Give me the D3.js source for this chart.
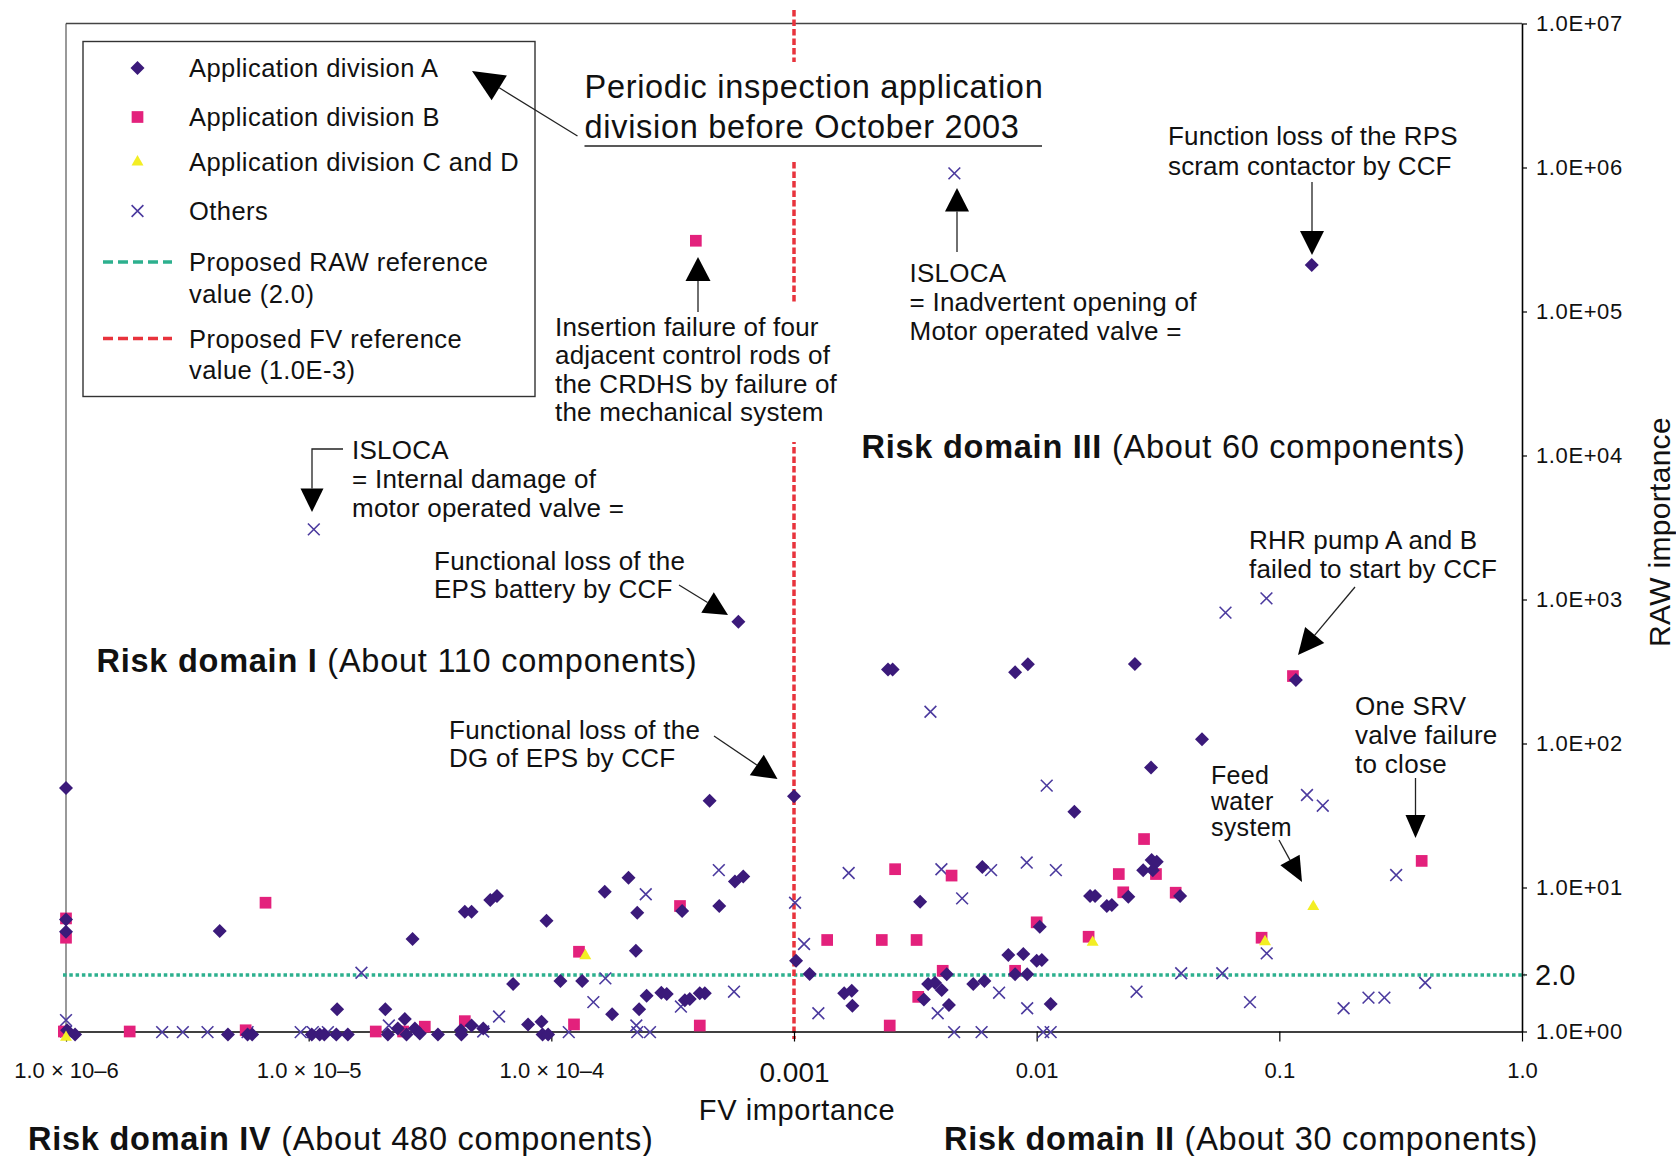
<!DOCTYPE html>
<html>
<head>
<meta charset="utf-8">
<script src="https://cdn.jsdelivr.net/npm/d3@7/dist/d3.min.js"></script>
<style>
  body { margin: 0; background: #fff; }
  svg text { font-family: "Liberation Sans", Arial, Helvetica, sans-serif; fill: #111; }
</style>
</head>
<body>
<svg width="1676" height="1156"></svg>
<script>

// [FV importance, RAW importance]
var divA = [
  [0.136, 2.1e5], [5.9e-4, 700], [1e-6, 49], [2.44e-3, 327], [2.55e-3, 327],
  [8.15e-3, 312], [9.2e-3, 355], [0.0143, 33.6], [4.49e-4, 40], [1.0e-3, 43],
  [0.0254, 356], [0.117, 276], [0.048, 107], [0.0296, 68],
  [1e-6, 6.0], [1e-6, 4.93], [1.01e-6, 1.02], [1.09e-6, 0.955],
  [4.3e-6, 4.99], [2.68e-5, 4.39], [1.31e-5, 1.43], [2.07e-5, 1.43], [2.49e-5, 1.22],
  [4.65e-6, 0.955], [5.6e-6, 0.955], [5.85e-6, 0.955],
  [1.03e-5, 0.955], [1.11e-5, 0.955], [1.16e-5, 0.955], [1.30e-5, 0.955], [1.45e-5, 0.955],
  [2.12e-5, 0.955], [2.33e-5, 1.05], [2.53e-5, 0.955], [2.74e-5, 1.05],
  [4.4e-5, 6.79], [4.69e-5, 6.79], [5.6e-5, 8.19], [5.97e-5, 8.73], [9.55e-5, 5.88],
  [1.66e-4, 9.35], [2.08e-4, 11.7], [2.26e-4, 6.68], [3.46e-4, 6.87],
  [5.71e-4, 11.0], [6.18e-4, 11.9], [4.92e-4, 7.44], [1.02e-3, 3.10], [1.16e-3, 2.51],
  [2.23e-4, 3.64], [6.96e-5, 2.14], [1.09e-4, 2.24], [1.34e-4, 2.24], [1.78e-4, 1.32],
  [2.47e-4, 1.77], [2.30e-4, 1.43], [2.84e-4, 1.86], [2.99e-4, 1.82],
  [3.55e-4, 1.65], [3.72e-4, 1.68], [4.09e-4, 1.84], [4.29e-4, 1.84],
  [2.87e-5, 0.97], [3.41e-5, 0.955], [4.24e-5, 1.02], [4.26e-5, 0.955], [4.69e-5, 1.1],
  [5.24e-5, 1.05], [8.02e-5, 1.12], [9.11e-5, 1.17], [9.2e-5, 0.955], [9.7e-5, 0.955],
  [5.97e-3, 13.9], [3.31e-3, 7.97], [1.61e-3, 1.84], [1.73e-3, 1.92], [1.74e-3, 1.51],
  [3.43e-3, 1.67], [3.57e-3, 2.14], [3.81e-3, 2.18], [4.06e-3, 1.94], [4.26e-3, 2.5],
  [4.35e-3, 1.53], [5.48e-3, 2.14], [6.09e-3, 2.24], [7.64e-3, 3.4], [8.81e-3, 3.45],
  [8.15e-3, 2.5], [9.14e-3, 2.5], [0.0100, 3.1], [0.0105, 3.14], [0.0103, 5.34],
  [0.01142, 1.55], [0.0166, 8.73], [0.0174, 8.73], [0.01946, 7.44], [0.0204, 7.57],
  [0.02386, 8.63], [0.02748, 13.2], [0.02977, 15.5], [0.03125, 15.1], [0.0301, 13.2],
  [0.039, 8.73]
];

var divB = [
  [3.94e-4, 3.1e5], [0.1138, 294], [1e-6, 6.1], [1e-6, 4.48], [0.98e-6, 1.0],
  [6.64e-6, 7.84], [1.83e-6, 1.0], [5.5e-6, 1.02], [1.89e-5, 1.0], [2.45e-5, 1.0],
  [3.01e-5, 1.08], [4.4e-5, 1.18], [1.24e-4, 1.12], [4.09e-4, 1.1], [1.30e-4, 3.58],
  [3.39e-4, 7.44], [0.0277, 21.7], [2.61e-3, 13.4], [4.46e-3, 12.1],
  [1.37e-3, 4.32], [2.3e-3, 4.32], [3.2e-3, 4.32], [2.48e-3, 1.1], [3.25e-3, 1.74],
  [4.1e-3, 2.64], [8.15e-3, 2.64], [0.01, 5.73], [0.01637, 4.55], [0.0218, 12.4],
  [0.02274, 9.26], [0.03102, 12.4], [0.0374, 9.2], [0.386, 15.3], [0.0845, 4.48]
];

var divCD = [
  [1e-6, 0.91], [1.38e-4, 3.36], [0.01701, 4.16], [0.0873, 4.2], [0.138, 7.36]
];

var others = [
  [4.58e-3, 9.1e5], [1.05e-5, 3070], [3.65e-3, 166], [0.0110, 51], [0.0885, 1019],
  [0.060, 810], [0.130, 43.9], [0.151, 37], [1e-6, 1.2], [1e-6, 1.0],
  [2.49e-6, 0.99], [3.03e-6, 0.99], [3.83e-6, 0.99], [5.6e-6, 0.99], [9.27e-6, 0.99],
  [1.04e-5, 0.99], [1.2e-5, 0.99], [1.65e-5, 2.56], [2.14e-5, 1.10], [5.24e-5, 1.0],
  [6.09e-5, 1.27], [1.18e-4, 0.99], [2.24e-4, 1.1], [2.26e-4, 0.99], [2.55e-4, 0.99],
  [1.67e-4, 2.34], [1.49e-4, 1.6], [3.42e-4, 1.49], [5.66e-4, 1.89], [2.45e-4, 8.97],
  [4.9e-4, 13.2], [1.01e-3, 7.84], [1.10e-3, 4.05], [1.26e-3, 1.34], [1.68e-3, 12.6],
  [4.05e-3, 13.4], [6.49e-3, 13.2], [9.1e-3, 14.9], [0.0120, 13.2], [4.93e-3, 8.41],
  [3.91e-3, 1.34], [4.57e-3, 0.99], [5.93e-3, 0.99], [7.0e-3, 1.86], [9.14e-3, 1.45],
  [0.01064, 0.99], [0.01142, 0.99], [0.0394, 2.54], [0.0582, 2.54], [0.0258, 1.89],
  [0.303, 12.2], [0.0887, 3.49], [0.0757, 1.6], [0.184, 1.45], [0.233, 1.72],
  [0.271, 1.72], [0.399, 2.18]
];

var xTickValues = [1e-6, 1e-5, 1e-4, 1e-3, 1e-2, 1e-1, 1];
var xTickLabels = ["1.0 \u00d7 10\u20136", "1.0 \u00d7 10\u20135", "1.0 \u00d7 10\u20134", "0.001", "0.01", "0.1", "1.0"];
var yTickValues = [1, 10, 100, 1e3, 1e4, 1e5, 1e6, 1e7];
var yTickLabels = ["1.0E+00", "1.0E+01", "1.0E+02", "1.0E+03", "1.0E+04", "1.0E+05", "1.0E+06", "1.0E+07"];

var fvRef = 1e-3;
var rawRefLabel = "2.0";
var rawRefLine = 2.47;   // the dotted line sits here in the figure, slightly above log(2)

var colA = "#3b1a7a", colB = "#e3217c", colCD = "#f3ee24", colO = "#4b3a9e";
var colGreen = "#2db08e", colRed = "#e8333c";

var svg = d3.select("svg");
var x = d3.scaleLog().domain([1e-6, 1]).range([66, 1522]);
var y = d3.scaleLog().domain([1, 1e7]).range([1031.5, 23.5]);

// frame
svg.append("line").attr("x1", 66).attr("x2", 66).attr("y1", y(1e7)).attr("y2", y(1))
  .attr("stroke", "#777").attr("stroke-width", 1.5);
svg.append("line").attr("x1", 66).attr("x2", 1522).attr("y1", y(1e7)).attr("y2", y(1e7))
  .attr("stroke", "#444").attr("stroke-width", 1.3);

// reference lines
svg.append("line").attr("x1", 63).attr("x2", 1525).attr("y1", y(rawRefLine)).attr("y2", y(rawRefLine))
  .attr("stroke", colGreen).attr("stroke-width", 3.5).attr("stroke-dasharray", "3.5 2.8");
svg.append("line").attr("x1", x(fvRef)).attr("x2", x(fvRef)).attr("y1", 10).attr("y2", 1039)
  .attr("stroke", colRed).attr("stroke-width", 3.5).attr("stroke-dasharray", "6.5 3");

// white boxes behind two annotations (they cut the red line)
svg.append("rect").attr("x", 578).attr("y", 62).attr("width", 468).attr("height", 97).attr("fill", "#fff");
svg.append("rect").attr("x", 550).attr("y", 303).attr("width", 296).attr("height", 139).attr("fill", "#fff");

// axes
var xAxis = svg.append("g")
  .attr("transform", "translate(0," + y(1) + ")")
  .call(d3.axisBottom(x).tickValues(xTickValues).tickSize(10).tickSizeOuter(0).tickPadding(21)
    .tickFormat(function(d, i) { return xTickLabels[i]; }));
xAxis.select(".domain").attr("stroke", "#000").attr("stroke-width", 1.6);
xAxis.selectAll(".tick line").attr("stroke", "#000").attr("stroke-width", 1.2);
xAxis.selectAll(".tick text").attr("font-size", function(d) { return d === 1e-3 ? 28 : 22; })
  .attr("font-family", "Liberation Sans, Arial, sans-serif").attr("fill", "#111");

var yAxis = svg.append("g")
  .attr("transform", "translate(" + x(1) + ",0)")
  .call(d3.axisRight(y).tickValues(yTickValues).tickSize(5).tickSizeOuter(0).tickPadding(9)
    .tickFormat(function(d, i) { return yTickLabels[i]; }));
yAxis.select(".domain").attr("stroke", "#000").attr("stroke-width", 1.6);
yAxis.selectAll(".tick line").attr("stroke", "#000").attr("stroke-width", 1.2);
yAxis.selectAll(".tick text").attr("font-size", 22).attr("letter-spacing", 0.6)
  .attr("font-family", "Liberation Sans, Arial, sans-serif").attr("fill", "#111");
yAxis.append("line").attr("x1", 0).attr("x2", 5).attr("y1", y(rawRefLine)).attr("y2", y(rawRefLine))
  .attr("stroke", "#000").attr("stroke-width", 1.2);
svg.append("text").attr("x", 1535).attr("y", y(rawRefLine)).attr("dy", "0.36em")
  .attr("font-size", 29).text(rawRefLabel);

svg.append("text").attr("x", 797).attr("y", 1110).attr("dy", "0.36em")
  .attr("text-anchor", "middle").attr("font-size", 29).attr("letter-spacing", 0.6).text("FV importance");
svg.append("text").attr("transform", "translate(1659,532) rotate(-90)").attr("dy", "0.36em")
  .attr("text-anchor", "middle").attr("font-size", 30).attr("letter-spacing", 0.3).text("RAW importance");

// markers
var sqSym = d3.symbol().type(d3.symbolSquare);
var triSym = d3.symbol().type(d3.symbolTriangle).size(62);
var xSym = d3.symbol().type(d3.symbolTimes).size(92);

function drawDiamonds(g, data, size) {
  g.selectAll(null).data(data).enter().append("path")
    .attr("d", sqSym.size(size)())
    .attr("transform", function(d) { return "translate(" + x(d[0]) + "," + y(d[1]) + ") rotate(45)"; })
    .attr("fill", colA);
}
var pts = svg.append("g");
pts.selectAll(null).data(others).enter().append("path")
  .attr("d", xSym())
  .attr("transform", function(d) { return "translate(" + x(d[0]) + "," + y(d[1]) + ")"; })
  .attr("fill", "none").attr("stroke", colO).attr("stroke-width", 1.6);
pts.selectAll(null).data(divB).enter().append("path")
  .attr("d", sqSym.size(137)())
  .attr("transform", function(d) { return "translate(" + x(d[0]) + "," + y(d[1]) + ")"; })
  .attr("fill", colB);
drawDiamonds(pts, divA, 98);
pts.selectAll(null).data(divCD).enter().append("path")
  .attr("d", triSym())
  .attr("transform", function(d) { return "translate(" + x(d[0]) + "," + y(d[1]) + ")"; })
  .attr("fill", colCD);

// legend
var lg = svg.append("g");
lg.append("rect").attr("x", 83).attr("y", 41.5).attr("width", 452).attr("height", 355)
  .attr("fill", "#fff").attr("stroke", "#333").attr("stroke-width", 1.4);
var legendRows = [
  {sym: "A", y: 68, lines: ["Application division A"]},
  {sym: "B", y: 117, lines: ["Application division B"]},
  {sym: "CD", y: 162, lines: ["Application division C and D"]},
  {sym: "O", y: 211, lines: ["Others"]},
  {sym: "G", y: 262, lines: ["Proposed RAW reference", "value (2.0)"]},
  {sym: "R", y: 338.5, lines: ["Proposed FV reference", "value (1.0E-3)"]}
];
legendRows.forEach(function(r) {
  var t = "translate(137.5," + r.y + ")";
  if (r.sym === "A") lg.append("path").attr("d", sqSym.size(98)()).attr("transform", t + " rotate(45)").attr("fill", colA);
  if (r.sym === "B") lg.append("path").attr("d", sqSym.size(137)()).attr("transform", t).attr("fill", colB);
  if (r.sym === "CD") lg.append("path").attr("d", triSym()).attr("transform", t).attr("fill", colCD);
  if (r.sym === "O") lg.append("path").attr("d", xSym()).attr("transform", t).attr("fill", "none").attr("stroke", colO).attr("stroke-width", 1.6);
  if (r.sym === "G" || r.sym === "R") lg.append("line").attr("x1", 103).attr("x2", 172).attr("y1", r.y).attr("y2", r.y)
    .attr("stroke", r.sym === "G" ? colGreen : colRed).attr("stroke-width", 3.5).attr("stroke-dasharray", "10 5");
  var tx = lg.append("text").attr("x", 189).attr("y", r.y).attr("font-size", 25.5).attr("letter-spacing", 0.45);
  r.lines.forEach(function(s, i) {
    tx.append("tspan").attr("x", 189).attr("dy", i === 0 ? "0.36em" : 31.6).text(s);
  });
});

// annotations
function multiText(x0, y0, lines, step, size, ls) {
  var t = svg.append("text").attr("x", x0).attr("y", y0).attr("font-size", size || 26)
    .attr("letter-spacing", ls === undefined ? 0.2 : ls);
  lines.forEach(function(s, i) {
    t.append("tspan").attr("x", x0).attr("dy", i === 0 ? "0.36em" : step).text(s);
  });
  return t;
}
function arrow(points, len, wid) {
  var n = points.length, tip = points[n - 1], prev = points[n - 2];
  var dx = tip[0] - prev[0], dy = tip[1] - prev[1], L = Math.sqrt(dx * dx + dy * dy);
  var ux = dx / L, uy = dy / L;
  var bx = tip[0] - ux * len, by = tip[1] - uy * len;
  var line = points.slice(0, n - 1).concat([[bx, by]]);
  svg.append("path").attr("d", d3.line()(line)).attr("fill", "none").attr("stroke", "#222").attr("stroke-width", 1.3);
  svg.append("path").attr("d", d3.line()([tip, [bx - uy * wid / 2, by + ux * wid / 2], [bx + uy * wid / 2, by - ux * wid / 2]]) + "Z")
    .attr("fill", "#000");
}

multiText(584.5, 86, ["Periodic inspection application", "division before October 2003"], 40, 32.5, 0.7);
svg.append("line").attr("x1", 584.5).attr("x2", 1042).attr("y1", 146).attr("y2", 146).attr("stroke", "#222").attr("stroke-width", 1.3);
arrow([[577.5, 136], [472, 71]], 32, 29);

multiText(1168, 136, ["Function loss of the RPS", "scram contactor by CCF"], 29.7, 26, 0.15);
arrow([[1312, 182], [1312, 255]], 24, 24);

multiText(909.5, 272.7, ["ISLOCA", "= Inadvertent opening of", "Motor operated valve ="], 29.2, 26, 0.25);
arrow([[957, 252], [957, 188]], 23.5, 24);

multiText(555, 326.7, ["Insertion failure of four", "adjacent control rods of", "the CRDHS by failure of", "the mechanical system"], 28.4, 26, 0.2);
arrow([[698, 312], [698, 257]], 24, 25);

multiText(352, 450, ["ISLOCA", "= Internal damage of", "motor operated valve ="], 28.7, 26, 0.25);
arrow([[343, 449], [312, 449], [312, 512]], 23.5, 23);

multiText(434, 561, ["Functional loss of the", "EPS battery by CCF"], 27.3, 26, 0.25);
arrow([[679, 585], [728, 615]], 24, 24);

multiText(449, 729.3, ["Functional loss of the", "DG of EPS by CCF"], 28, 26, 0.25);
arrow([[714, 736], [777.5, 779]], 25, 25);

multiText(1249, 540, ["RHR pump A and B", "failed to start by CCF"], 28.3, 26, 0.18);
arrow([[1355, 587], [1298, 655]], 26, 25);

multiText(1355, 706, ["One SRV", "valve failure", "to close"], 28.7, 26, 0.3);
arrow([[1415.5, 778], [1415.5, 838]], 23, 20);

multiText(1211, 775, ["Feed", "water", "system"], 26, 25, 0.3);
arrow([[1279, 840], [1302, 882]], 25, 22);

function domainLabel(x0, y0, bold, rest) {
  var t = svg.append("text").attr("x", x0).attr("y", y0).attr("dy", "0.36em")
    .attr("font-size", 32.5).attr("letter-spacing", 0.75);
  t.append("tspan").attr("font-weight", "bold").text(bold);
  t.append("tspan").text(rest);
}
domainLabel(96.5, 660, "Risk domain I", " (About 110 components)");
domainLabel(861.5, 446.7, "Risk domain III", " (About 60 components)");
domainLabel(28, 1138, "Risk domain IV", " (About 480 components)");
domainLabel(944, 1138, "Risk domain II", " (About 30 components)");

</script>
</body>
</html>
